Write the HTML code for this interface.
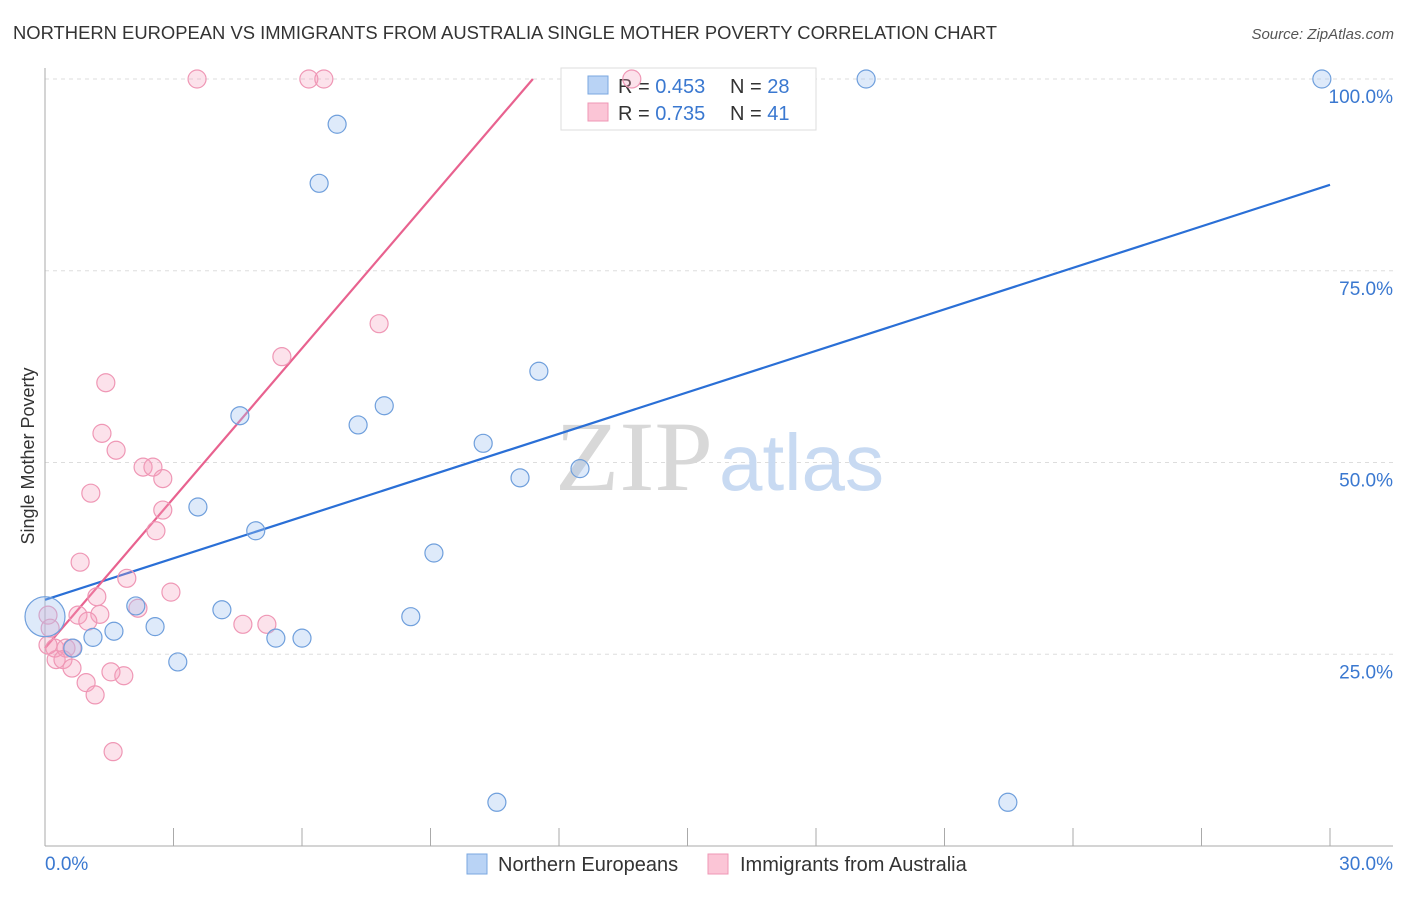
<!DOCTYPE html>
<html><head><meta charset="utf-8"><style>
body{margin:0;background:#fff;font-family:"Liberation Sans",sans-serif;}
svg text{font-family:"Liberation Sans",sans-serif;}
</style></head><body>
<svg id="chart" width="1406" height="892" xmlns="http://www.w3.org/2000/svg">
<text x="13" y="39" font-size="18" fill="#333" textLength="984" lengthAdjust="spacingAndGlyphs">NORTHERN EUROPEAN VS IMMIGRANTS FROM AUSTRALIA SINGLE MOTHER POVERTY CORRELATION CHART</text>
<text x="1394" y="39" font-size="15" fill="#555" text-anchor="end" font-style="italic">Source: ZipAtlas.com</text>
<text transform="translate(34,456) rotate(-90)" font-size="18" fill="#333" text-anchor="middle">Single Mother Poverty</text>
<g id="grid"></g>
<g id="axes"></g>
<text x="555" y="490" font-size="100" fill="#ddd"><tspan font-family="Liberation Serif" fill="#d8d8d8" textLength="158" lengthAdjust="spacingAndGlyphs">ZIP</tspan><tspan dx="6" fill="#c8daf2" font-size="80" textLength="165" lengthAdjust="spacingAndGlyphs">atlas</tspan></text>
<g>
<rect x="561" y="68" width="255" height="62" fill="#fff" stroke="#ddd"/>
<rect x="588" y="76" width="20" height="18" fill="#b9d3f5" stroke="#7aa7e0"/>
<rect x="588" y="103" width="20" height="18" fill="#fbc5d6" stroke="#ef97b5"/>
<text x="618" y="93" font-size="20" fill="#333">R = <tspan fill="#3a78d0">0.453</tspan></text>
<text x="730" y="93" font-size="20" fill="#333">N = <tspan fill="#3a78d0">28</tspan></text>
<text x="618" y="120" font-size="20" fill="#333">R = <tspan fill="#3a78d0">0.735</tspan></text>
<text x="730" y="120" font-size="20" fill="#333">N = <tspan fill="#3a78d0"> 41</tspan></text>
</g>
<g id="lines"></g>
<g id="points"></g>
<g>
<rect x="467" y="854" width="20" height="20" fill="#b9d3f5" stroke="#7aa7e0"/>
<text x="498" y="871" font-size="20" fill="#333">Northern Europeans</text>
<rect x="708" y="854" width="20" height="20" fill="#fbc5d6" stroke="#ef97b5"/>
<text x="740" y="871" font-size="20" fill="#333">Immigrants from Australia</text>
</g>
</svg>
<script>
const blueX=[0,0.65,1.12,1.61,2.12,2.57,3.10,3.57,4.13,4.55,4.92,5.39,6.00,6.40,6.82,7.31,7.92,8.54,9.08,10.23,10.55,11.09,11.53,12.49,19.17,22.48,29.81];
const blueY=[29.9,25.8,27.2,28.0,31.3,28.6,24.0,44.2,30.8,56.1,41.1,27.1,27.1,86.4,94.1,54.9,57.4,29.9,38.2,52.5,5.7,48.0,61.9,49.2,100,5.7,100];
const pinkX=[3.55,6.16,6.51,13.70,7.80,5.53,1.42,1.33,1.66,2.29,2.52,2.75,1.07,2.75,2.59,0.82,1.91,2.94,1.21,0.77,1.28,1.00,2.17,4.62,5.18,0.07,0.12,0.23,0.49,0.63,0.26,0.42,0.63,1.54,1.84,0.96,1.17,1.59,0.07];
const pinkY=[100,100,100,100,68.1,63.8,60.4,53.8,51.6,49.4,49.4,47.9,46.0,43.8,41.1,37.0,34.9,33.1,32.5,30.1,30.2,29.3,31.0,28.9,28.9,30.1,28.4,25.8,25.8,25.8,24.3,24.3,23.2,22.7,22.2,21.3,19.7,12.3,26.2];
const blueLine=[[0,32.1],[30,86.2]];
const pinkLine=[[0,25.8],[11.39,100]];
const yTicks=[25,50,75,100];
const yTickLabels=["25.0%","50.0%","75.0%","100.0%"];
const xTicks=[0,3,6,9,12,15,18,21,24,27,30];

const NS="http://www.w3.org/2000/svg";
const sx=v=>45+v/30*1285;
const sy=v=>846-v/100*767;
function mk(tag,attrs,parent){const e=document.createElementNS(NS,tag);for(const k in attrs)e.setAttribute(k,attrs[k]);document.getElementById(parent).appendChild(e);return e;}
yTicks.forEach((t,i)=>{
  const g=mk('line',{x1:45,x2:1393,y1:sy(t),y2:sy(t),stroke:'#ddd','stroke-dasharray':'4,4'},'grid');
  
  
  const l=mk('text',{x:1393,y:sy(t)+24,'font-size':19,fill:'#3a78d0','text-anchor':'end'},'grid');
  l.textContent=yTickLabels[i];
  
  
});
mk('line',{x1:45,x2:45,y1:68,y2:846,stroke:'#aaa'},'axes');
mk('line',{x1:45,x2:1393,y1:846,y2:846,stroke:'#aaa'},'axes');
xTicks.forEach(t=>{
  const e=mk('line',{x1:sx(t),x2:sx(t),y1:828,y2:846,stroke:'#aaa'},'axes');
  
  
});
let a=mk('text',{x:45,y:870,'font-size':19,fill:'#3a78d0'},'axes');a.textContent='0.0%';


let b=mk('text',{x:1393,y:870,'font-size':19,fill:'#3a78d0','text-anchor':'end'},'axes');b.textContent='30.0%';


pinkX.forEach((x,i)=>{
  const c=mk('circle',{cx:sx(x),cy:sy(pinkY[i]),r:9,fill:'rgba(246,160,188,0.3)',stroke:'#ef97b5','stroke-width':1.2},'points');
  
  
});
blueX.forEach((x,i)=>{
  const c=mk('circle',{cx:sx(x),cy:sy(blueY[i]),r:i===0?20:9,fill:'rgba(160,196,240,0.35)',stroke:'#6f9fdc','stroke-width':1.2},'points');
  
  
});
const bl=mk('line',{x1:sx(blueLine[0][0]),y1:sy(blueLine[0][1]),x2:sx(blueLine[1][0]),y2:sy(blueLine[1][1]),stroke:'#2a6fd6','stroke-width':2.2},'lines');


const pl=mk('line',{x1:sx(pinkLine[0][0]),y1:sy(pinkLine[0][1]),x2:sx(pinkLine[1][0]),y2:sy(pinkLine[1][1]),stroke:'#e8628f','stroke-width':2.2},'lines');


</script>
</body></html>
